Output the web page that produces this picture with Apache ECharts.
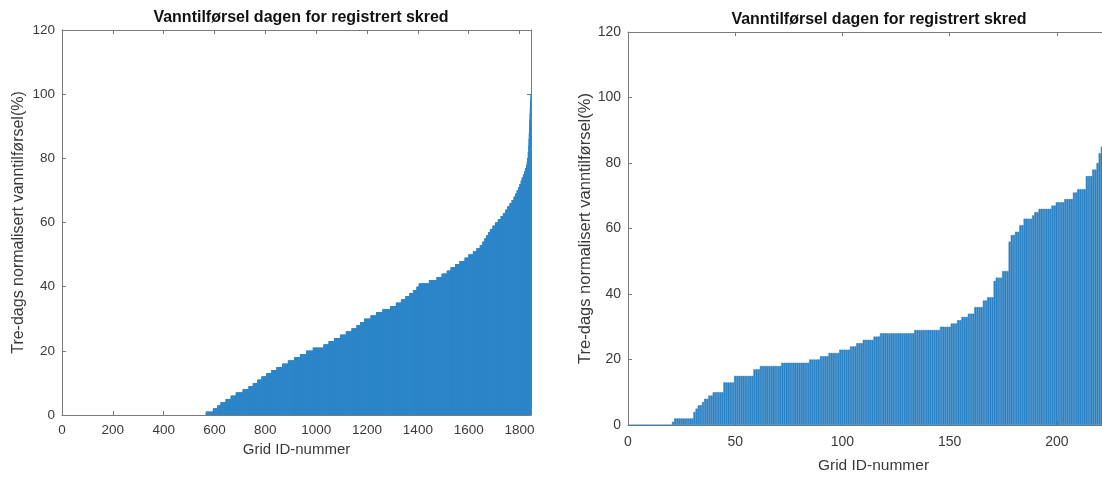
<!DOCTYPE html>
<html>
<head>
<meta charset="utf-8">
<script src="https://cdn.jsdelivr.net/npm/echarts@6/dist/echarts.min.js"></script>
<style>
html,body{margin:0;padding:0;background:#fff;overflow:hidden;width:1102px;height:479px;}
#c{width:1130px;height:479px;}
</style>
</head>
<body>
<div id="c"></div>
<script>
// ---- Data ----
const titleText = 'Vanntilførsel dagen for registrert skred';
const xName = 'Grid ID-nummer';
const yName = 'Tre-dags normalisert vanntilførsel(%)';

// Left panel: sorted bars, run-length encoded (level, first bar index)
const leftCount = 1844;
const leftLevels = [0,1,2,3,4,5,6,7,8,9,10,11,12,13,14,15,16,17,18,19,20,21,22,23,24,25,26,27,28,29,30,31,32,33,34,35,36,37,38,39,40,41,42,43,44,45,46,47,48,49,50,51,52,53,54,55,56,57,58,59,60,61,62,63,64,65,66,67,68,69,70,71,72,73,74,75,76,77,78,79,80,82,84,86,88,90,92,94,96,98,100];
const leftStarts = [1,567,595,612,625,645,665,685,712,735,752,770,786,805,825,845,868,890,915,938,962,988,1030,1050,1072,1095,1118,1140,1160,1175,1190,1215,1237,1262,1292,1315,1335,1352,1368,1382,1396,1405,1445,1475,1495,1515,1530,1548,1565,1585,1600,1618,1632,1645,1655,1663,1670,1678,1685,1695,1705,1716,1727,1736,1745,1753,1762,1770,1778,1784,1790,1796,1801,1806,1810,1815,1820,1824,1828,1830,1832,1834,1836,1837,1838,1839,1840,1841,1842,1843,1844];

// Right panel
const rightCount = 228;
const rightLevels = [0,1,2,4,5,6,7,8,9,10,13,15,17,18,19,20,21,22,23,24,25,26,27,28,29,30,31,32,33,34,36,38,39,44,45,47,56,58,59,61,63,64,65,66,67,68,69,71,72,76,78,80,83,85,86,88,90,93,96,100];
const rightStarts = [1,21,22,31,32,33,35,36,38,40,45,50,59,62,72,85,90,94,99,104,107,110,115,118,134,146,151,154,156,159,162,166,168,171,172,175,178,179,181,183,185,189,190,192,198,200,204,208,210,214,217,219,220,221,222,223,224,225,226,227];

// axis ticks
const leftXMax = 1845, leftXStep = 200;
const rightXMax = 229, rightXStep = 50;
const yMax = 120, yStep = 20;

function expand(levels, starts, n) {
  const out = [];
  let k = 0;
  for (let i = 1; i <= n; i++) {
    while (k + 1 < starts.length && starts[k + 1] <= i) k++;
    out.push([i, levels[k]]);
  }
  return out;
}
const leftData = expand(leftLevels, leftStarts, leftCount);
const rightData = expand(rightLevels, rightStarts, rightCount);

// ---- Styling ----
const FONT = 'Liberation Sans, Arial, Helvetica, sans-serif';
const AX = '#7a7a7a';
const LBL = '#3a3a3a';
const BAR = '#2d86c9';

function xAxes(gridIndex, max, step, nameGap, lblSize, nameSize, margin) {
  return [{
    gridIndex, type: 'value', min: 0, max, interval: step,
    name: xName, nameLocation: 'middle', nameGap,
    nameTextStyle: {fontFamily: FONT, fontSize: nameSize, color: LBL},
    axisLine: {show: true, onZero: false, lineStyle: {color: AX, width: 1}},
    axisTick: {show: true, inside: true, length: 4, lineStyle: {color: AX}},
    axisLabel: {fontFamily: FONT, fontSize: lblSize, color: LBL, margin,
      formatter: v => (v % step === 0 ? String(v) : '')},
    splitLine: {show: false}
  }, {
    gridIndex, type: 'value', min: 0, max, interval: step, position: 'top',
    axisLine: {show: true, onZero: false, lineStyle: {color: AX, width: 1}},
    axisTick: {show: true, inside: true, length: 4, lineStyle: {color: AX}},
    axisLabel: {show: false}, splitLine: {show: false}
  }];
}
function yAxes(gridIndex, nameGap, lblSize, nameSize) {
  return [{
    gridIndex, type: 'value', min: 0, max: yMax, interval: yStep,
    name: yName, nameLocation: 'middle', nameGap,
    nameTextStyle: {fontFamily: FONT, fontSize: nameSize, color: LBL},
    axisLine: {show: true, onZero: false, lineStyle: {color: AX, width: 1}},
    axisTick: {show: true, inside: true, length: 4, lineStyle: {color: AX}},
    axisLabel: {fontFamily: FONT, fontSize: lblSize, color: LBL, margin: 7},
    splitLine: {show: false}
  }, {
    gridIndex, type: 'value', min: 0, max: yMax, interval: yStep, position: 'right',
    axisLine: {show: true, onZero: false, lineStyle: {color: AX, width: 1}},
    axisTick: {show: true, inside: true, length: 4, lineStyle: {color: AX}},
    axisLabel: {show: false}, splitLine: {show: false}
  }];
}

const chart = echarts.init(document.getElementById('c'), null, {renderer: 'canvas'});
chart.setOption({
  animation: false,
  backgroundColor: '#ffffff',
  title: [
    {text: titleText, left: 296, top: 5, textAlign: 'center',
     textStyle: {fontFamily: FONT, fontSize: 16, fontWeight: 'bold', color: '#111'}},
    {text: titleText, left: 874, top: 7, textAlign: 'center',
     textStyle: {fontFamily: FONT, fontSize: 16, fontWeight: 'bold', color: '#111'}}
  ],
  grid: [
    {left: 62, top: 30, width: 469, height: 385, containLabel: false},
    {left: 628, top: 32, width: 491, height: 397, containLabel: false}
  ],
  xAxis: [].concat(xAxes(0, leftXMax, leftXStep, 25, 13.5, 15, 8), xAxes(1, rightXMax, rightXStep, 33, 14, 15.5, 10)),
  yAxis: [].concat(yAxes(0, 35, 13.5, 16), yAxes(1, 34, 14, 16.5)),
  series: [
    {type: 'bar', xAxisIndex: 0, yAxisIndex: 0, data: leftData, barWidth: '100%',
     itemStyle: {color: BAR}, silent: true},
    {type: 'bar', xAxisIndex: 2, yAxisIndex: 2, data: rightData, barWidth: '100%',
     itemStyle: {color: BAR, borderColor: '#2579bb', borderWidth: 0.5}, silent: true}
  ]
});
</script>
</body>
</html>
